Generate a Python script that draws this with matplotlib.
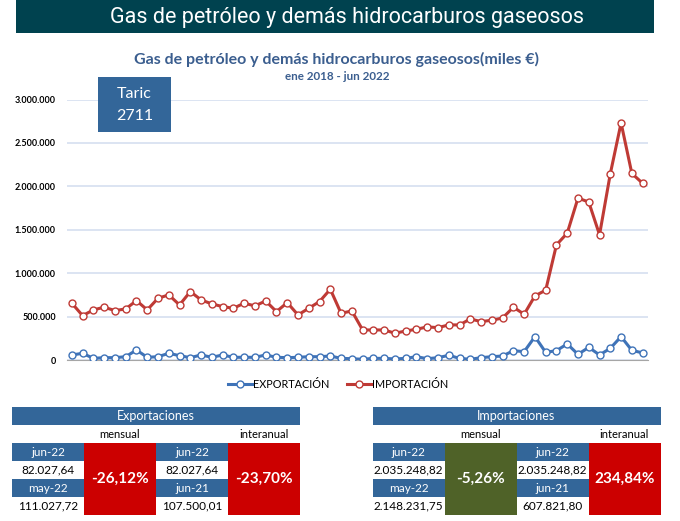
"""Gas de petróleo y demás hidrocarburos gaseosos — comercio exterior mensual."""

import matplotlib

matplotlib.use("Agg")
import matplotlib.pyplot as plt
from matplotlib.patches import Rectangle
from matplotlib.ticker import FuncFormatter

W, H = 680, 521

# miles €, ene 2018 - jun 2022
exportacion = [
    58000, 77000, 19000, 27000, 27000, 38000, 115000, 31000, 38000, 77000, 50000, 27000,
    58000, 31000, 58000, 31000, 31000, 31000, 58000, 31000, 27000, 31000, 38000, 38000,
    46000, 19000, 15000, 8000, 19000, 19000, 12000, 19000, 38000, 15000, 27000, 54000,
    19000, 8000, 27000, 38000, 46000, 107500, 96000, 269000, 88000, 108000, 185000, 65000,
    146000, 58000, 135000, 269000, 111028, 82028,
]
importacion = [
    654000, 511000, 577000, 608000, 569000, 588000, 684000, 577000, 711000, 750000, 634000, 788000,
    692000, 646000, 615000, 596000, 654000, 623000, 680000, 557000, 661000, 519000, 596000, 673000,
    815000, 538000, 565000, 346000, 346000, 346000, 308000, 334000, 354000, 381000, 373000, 404000,
    404000, 473000, 442000, 458000, 484000, 607822, 527000, 738000, 804000, 1326000, 1461000, 1865000,
    1819000, 1442000, 2145000, 2730000, 2148232, 2035249,
]
y_ticks = [0, 500000, 1000000, 1500000, 2000000, 2500000, 3000000]

# tablas resumen
exp_mensual = ["jun-22", "82.027,64", "may-22", "111.027,72", "-26,12%"]
exp_interanual = ["jun-22", "82.027,64", "jun-21", "107.500,01", "-23,70%"]
imp_mensual = ["jun-22", "2.035.248,82", "may-22", "2.148.231,75", "-5,26%"]
imp_interanual = ["jun-22", "2.035.248,82", "jun-21", "607.821,80", "234,84%"]

BLUE_CELL = "#336699"
RED = "#CC0000"
GREEN = "#4F6228"
FONT = "Lato"

plt.rcParams["font.family"] = [FONT, "DejaVu Sans"]

fig = plt.figure(figsize=(W / 100, H / 100), dpi=100)


def fx(x):
    return x / W


def fy(y):
    return 1 - y / H


def box(x0, y0, x1, y1, color):
    fig.patches.append(
        Rectangle((fx(x0), fy(y1)), fx(x1) - fx(x0), fy(y0) - fy(y1),
                  transform=fig.transFigure, facecolor=color, edgecolor="none")
    )


def label(x, y, s, size, color="black", weight="normal", family=None):
    fig.text(fx(x), fy(y), s, ha="center", va="center", fontsize=size,
             color=color, fontweight=weight, family=family or [FONT, "DejaVu Sans"])


# Cabecera
box(16, 0, 654, 33, "#00424F")
label(347, 17, "Gas de petróleo y demás hidrocarburos gaseosos", 15.5, "white",
      family=["Roboto", "DejaVu Sans"])

label(336, 59, "Gas de petróleo y demás hidrocarburos gaseosos(miles €)", 11.5,
      "#3B5E8F", "bold")
label(337, 76, "ene 2018 - jun 2022", 8.4, "#3B5E8F", "bold")

# Gráfico
ax = fig.add_axes([fx(67), fy(360), fx(648) - fx(67), fy(99.5) - fy(360)])
x = list(range(len(importacion)))
ax.plot(x, exportacion, color="#3F73B8", lw=2.2, marker="o", ms=5,
        mfc="white", mec="#3F73B8", mew=1, label="EXPORTACIÓN", zorder=3)
ax.plot(x, importacion, color="#BF3A35", lw=2.2, marker="o", ms=5,
        mfc="white", mec="#BF3A35", mew=1, label="IMPORTACIÓN", zorder=3)

ax.set_xlim(-0.45, 53.5)
ax.set_ylim(0, 3000000)
ax.set_yticks(y_ticks)
ax.yaxis.set_major_formatter(FuncFormatter(lambda v, _: f"{int(v):,}".replace(",", ".")))
ax.set_xticks([])
for t in ax.get_yticklabels():
    t.set_fontweight("bold")
    t.set_fontsize(6.5)
ax.tick_params(axis="y", length=0, pad=8)
ax.grid(axis="y", color="#D5DFF0", lw=1.2)
ax.set_axisbelow(True)
for side in ["top", "right", "left"]:
    ax.spines[side].set_visible(False)
ax.spines["bottom"].set_color("#A6A6A6")
ax.patch.set_alpha(0)

fig.legend(loc="center", bbox_to_anchor=(fx(338), fy(384)), ncol=2, frameon=False,
           handlelength=2.2, columnspacing=1.6, handletextpad=0.1,
           prop={"family": [FONT, "DejaVu Sans"], "size": 7.8})

# Recuadro Taric
box(98, 77, 171, 132, BLUE_CELL)
label(134.5, 94, "Taric", 11.5, "white")
label(134.5, 116, "2711", 11.5, "white")


# Tablas
def tabla(x0, titulo, mensual, interanual, color_m, color_i):
    x1 = x0 + 288
    cols = [x0, x0 + 72, x0 + 144, x0 + 216, x1]
    box(x0, 407, x1, 425, BLUE_CELL)
    label((x0 + x1) / 2, 416, titulo, 9, "white")
    label((cols[1] + cols[2]) / 2, 434.5, "mensual", 8)
    label((cols[3] + cols[4]) / 2, 434.5, "interanual", 8)
    rows = [(443, 461), (461, 479), (479, 497), (497, 515)]
    for c, vals, col in [(0, mensual, color_m), (2, interanual, color_i)]:
        xa, xb = cols[c], cols[c + 1]
        for r, (ya, yb) in enumerate(rows):
            if r % 2 == 0:
                box(xa, ya, xb, yb, BLUE_CELL)
                label((xa + xb) / 2, (ya + yb) / 2, vals[r], 8.5, "white")
            else:
                label((xa + xb) / 2, (ya + yb) / 2, vals[r], 8.5)
        xc = cols[c + 2]
        box(xb, 443, xc, 515, col)
        label((xb + xc) / 2, 479, vals[4], 11, "white", "bold")


tabla(12, "Exportaciones", exp_mensual, exp_interanual, RED, RED)
tabla(372.5, "Importaciones", imp_mensual, imp_interanual, GREEN, RED)

fig.savefig("out.png", dpi=100)
